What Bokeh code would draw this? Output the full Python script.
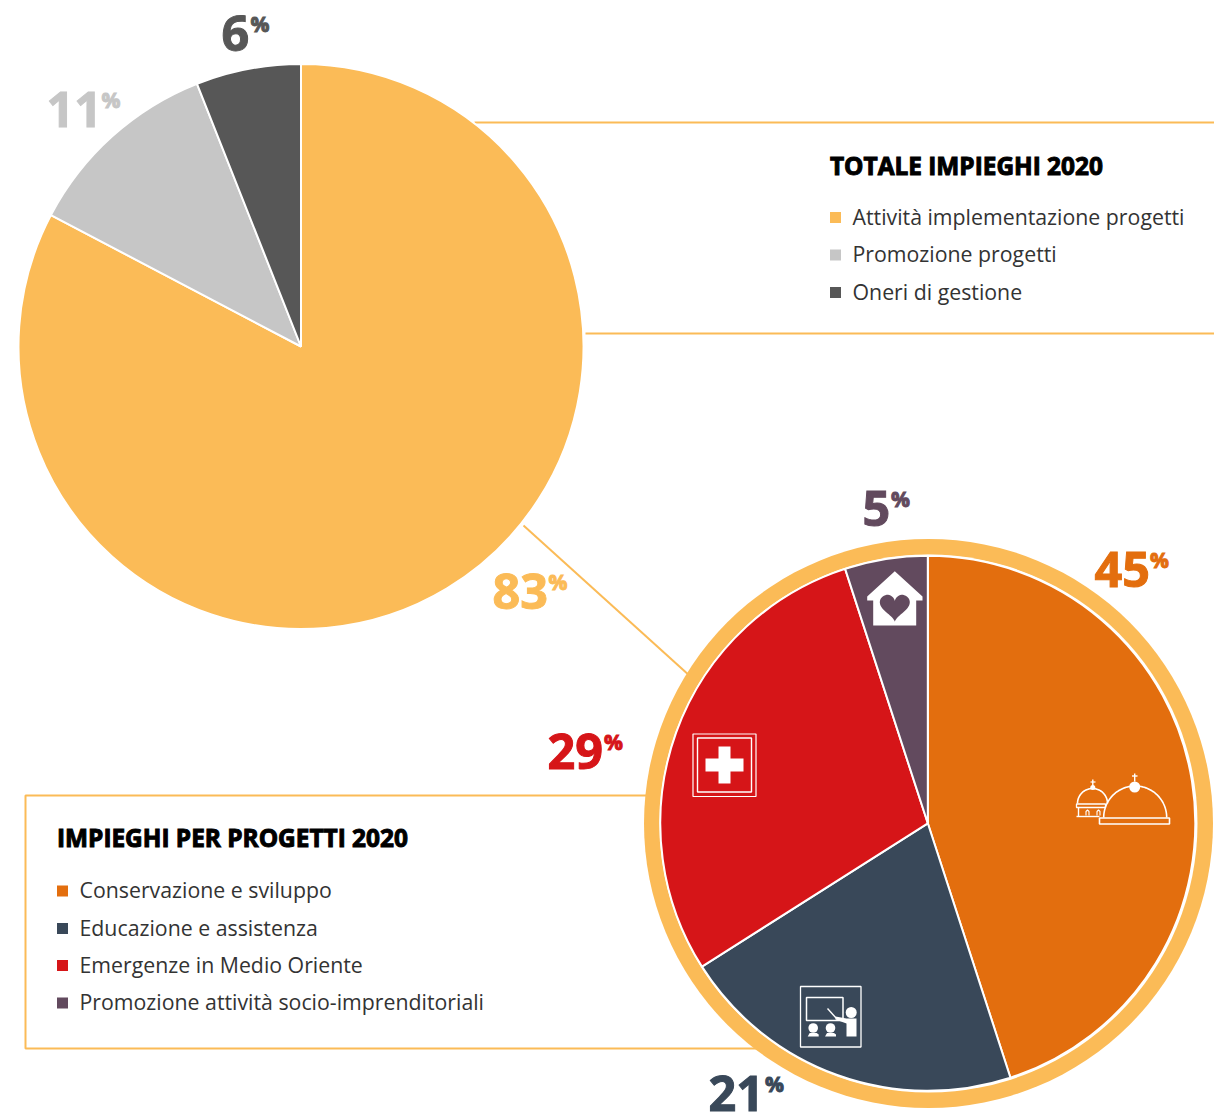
import math
import numpy as np
from bokeh.plotting import figure
from bokeh.models import Range1d
from bokeh.core.properties import value
from bokeh.embed import file_html
from bokeh.resources import INLINE

# ---- data ----
total_labels = ["Attività implementazione progetti", "Promozione progetti", "Oneri di gestione"]
total_values = [82.7, 11.3, 6.0]
total_colors = ["#FBBB57", "#C6C6C6", "#575757"]
total_title = "TOTALE IMPIEGHI 2020"

project_labels = ["Conservazione e sviluppo", "Educazione e assistenza", "Emergenze in Medio Oriente",
                  "Promozione attività socio-imprenditoriali"]
project_values = [45, 21, 29, 5]
project_colors = ["#E36E0E", "#394859", "#D61518", "#624A5E"]
project_title = "IMPIEGHI PER PROGETTI 2020"

# ---- layout (page pixels) ----
W, H = 1214, 1115
ACCENT = "#FBBB57"
WHITE = "#FFFFFF"
FONT = value("Open Sans")


def Y(py):
    return H - py


def ys(pys):
    return [Y(v) for v in pys]


p = figure(width=W, height=H, x_range=Range1d(0, W), y_range=Range1d(0, H),
           output_backend="svg", toolbar_location=None, min_border=0,
           outline_line_color=None, background_fill_color=WHITE, border_fill_color=WHITE)
p.axis.visible = False
p.grid.visible = False


def pie(cx, cy, r, values, colors, lw):
    angles = np.cumsum([0] + list(values)) / sum(values) * 2 * math.pi
    start = math.pi / 2 - angles[:-1]
    end = math.pi / 2 - angles[1:]
    p.wedge(x=[cx] * len(values), y=[Y(cy)] * len(values), radius=r, start_angle=list(start), end_angle=list(end),
            direction="clock", fill_color=colors, line_color=WHITE, line_width=lw)


def seg(xs, yv, color=ACCENT, w=2):
    p.line(xs, ys(yv), line_color=color, line_width=w)


def txt(x, y, s, size, color, weight="normal", outline=None):
    p.text(x=[x], y=[Y(y)], text=[s], text_font=FONT, text_font_size=f"{size}px", text_color=color,
           text_font_style=weight, text_align="left", text_baseline="middle", text_outline_color=outline)


def legend(x0, title, title_y, labels, colors, rows):
    txt(x0, title_y, title, 24.4, "#000000", "bold", "#000000")
    for lab, col, ry in zip(labels, colors, rows):
        p.rect(x=[x0 + 5.5], y=[Y(ry + 1.5)], width=11, height=11, fill_color=col, line_color=None)
        txt(x0 + 22.5, ry, lab, 21.3, "#333333")


# connectors and frames (behind the pies)
seg([474, 1214], [122, 122])
seg([585, 1214], [333, 333])
seg([523, 690], [525, 676])
seg([646, 25, 25, 760], [795, 795, 1048, 1048])

# first pie
pie(300.5, 346, 282.5, total_values, total_colors, 2)

# second pie with ring
p.circle(x=[928], y=[Y(823)], radius=284.5, fill_color=ACCENT, line_color=None)
p.circle(x=[928], y=[Y(823)], radius=269, fill_color=WHITE, line_color=None)
pie(927.3, 822.8, 267.5, project_values, project_colors, 2)

# legends
legend(829.5, total_title, 164.5, total_labels, total_colors, [215.5, 253, 290.5])
legend(56.5, project_title, 837, project_labels, project_colors, [889, 926.5, 963.5, 1001])

# percentage labels
for val, col, xn, xp, mid in [
    (total_values[2], total_colors[2], 221, 250, 33),
    (total_values[1], total_colors[1], 46, 101, 108.5),
    (total_values[0], total_colors[0], 492, 548, 590.5),
    (project_values[0], project_colors[0], 1094, 1149.5, 568.5),
    (project_values[3], project_colors[3], 862, 890.5, 508),
    (project_values[2], project_colors[2], 547, 603.5, 750.5),
    (project_values[1], project_colors[1], 708, 764.5, 1092.5),
]:
    txt(xn, mid, str(round(val)), 48.5, col, "bold", col)
    txt(xp, mid - 9.5, "%", 21, col, "bold", col)

# --- icons ---
# domes
t = np.linspace(0, math.pi, 60)
p.line(1134.7 + 31.5 * np.cos(t), Y(817) + 31.5 * np.sin(t), line_color=WHITE, line_width=1.6)
p.quad(left=[1099], right=[1169], top=[Y(817.5)], bottom=[Y(823.5)], fill_color=None, line_color=WHITE, line_width=1.6)
p.circle(x=[1134.2], y=[Y(786.5)], radius=5.5, fill_color=WHITE, line_color=None)
seg([1134.2, 1134.2], [773, 781], WHITE, 1.4)
seg([1131.5, 1137], [775.5, 775.5], WHITE, 1.4)
p.line(1092 + 15 * np.cos(t), Y(803) + 15 * np.sin(t), line_color=WHITE, line_width=1.6)
p.quad(left=[1076], right=[1105], top=[Y(803.5)], bottom=[Y(807)], fill_color=None, line_color=WHITE, line_width=1.3)
seg([1078, 1078], [807, 816], WHITE, 1.4)
seg([1076, 1099], [816, 816], WHITE, 1.4)
seg([1092.3, 1092.3], [779, 786], WHITE, 1.4)
seg([1090, 1095], [781.5, 781.5], WHITE, 1.2)
p.circle(x=[1092.3], y=[Y(787)], radius=2.5, fill_color=WHITE, line_color=None)
for wx in [1087, 1098]:
    seg([wx - 1.5, wx - 1.5, wx, wx + 1.5, wx + 1.5], [815, 811, 809.5, 811, 815], WHITE, 1.1)

# Swiss cross box
p.quad(left=[692.5], right=[755.5], top=[Y(733.5)], bottom=[Y(796)], fill_color=None, line_color=WHITE, line_width=1.2)
p.quad(left=[697], right=[751], top=[Y(737.5)], bottom=[Y(791.5)], fill_color=None, line_color=WHITE, line_width=1.4)
p.quad(left=[705, 718], right=[743, 730], top=[Y(758), Y(746)], bottom=[Y(771), Y(783)], fill_color=WHITE, line_color=None)

# teacher
p.quad(left=[800], right=[860.5], top=[Y(986)], bottom=[Y(1046.5)], fill_color=None, line_color=WHITE, line_width=1.3)
p.quad(left=[806], right=[842.5], top=[Y(997)], bottom=[Y(1020)], fill_color=None, line_color=WHITE, line_width=1.5)
p.circle(x=[850.7], y=[Y(1012)], radius=5.5, fill_color=WHITE, line_color=None)
p.patch([835, 846, 856, 856, 846, 846, 835], ys([1016, 1018, 1018, 1036, 1036, 1023, 1019]), fill_color=WHITE, line_color=None)
seg([827, 836], [1008, 1018], WHITE, 1.4)
for sx in [812.7, 830]:
    p.circle(x=[sx], y=[Y(1027.5)], radius=4.8, fill_color=WHITE, line_color=None)
    p.patch([sx - 5.5, sx - 3.5, sx + 3.5, sx + 5.5, sx + 5.5, sx - 5.5], ys([1036, 1032.5, 1032.5, 1034, 1036, 1036]),
            fill_color=WHITE, line_color=None)

# house with heart
p.patch([894.3, 922, 922, 915.7, 915.7, 872.7, 872.7, 866.7, 866.7],
        ys([570.7, 596, 600, 600, 625, 625, 600, 600, 596]), fill_color=WHITE, line_color=None)
u = np.linspace(0, 2 * math.pi, 80)
hx = 894.3 + 15 * (16 * np.sin(u) ** 3) / 16
hy = Y(605.5) + 15 * (13 * np.cos(u) - 5 * np.cos(2 * u) - 2 * np.cos(3 * u) - np.cos(4 * u)) / 16
p.patch(hx, hy, fill_color=project_colors[3], line_color=None)

open("out.html", "w").write(file_html(p, INLINE))
